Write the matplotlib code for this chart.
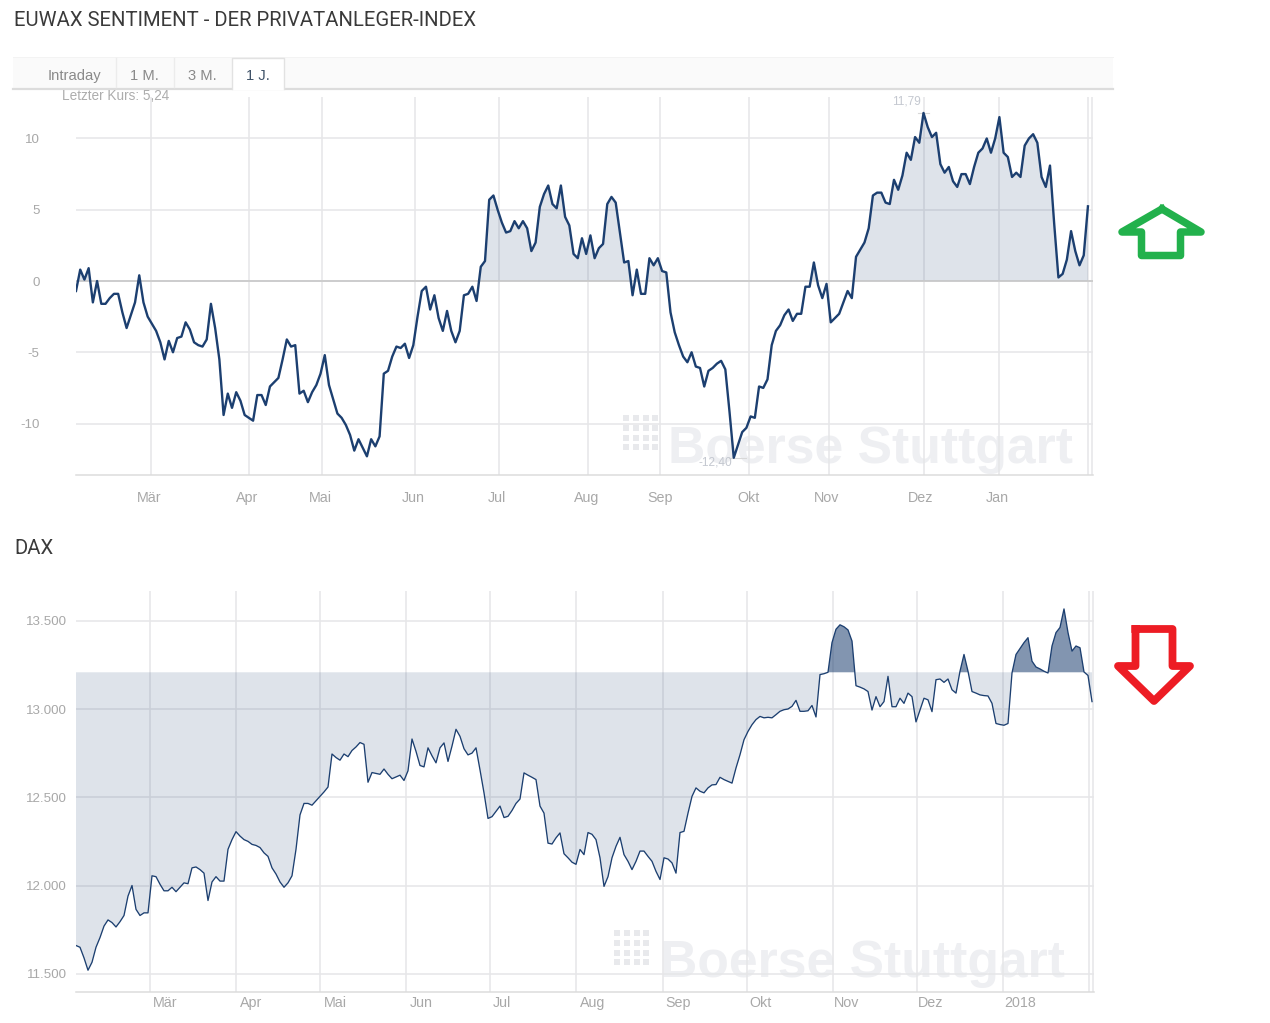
import numpy as np
import matplotlib
matplotlib.use("Agg")
import matplotlib.pyplot as plt

# ---------- data: EUWAX sentiment, one list per month ----------
eu_feb = [-0.7,0.8,0.1,0.9,-1.5,0.0,-1.6,-1.6,-1.2,-0.9,-0.9,-2.2,-3.3,-2.4,-1.5,0.4,-1.5,-2.5]
eu_mar = [-3.0,-3.5,-4.3,-5.5,-4.2,-5.0,-4.0,-3.9,-2.9,-3.4,-4.3,-4.5,-4.6,-4.1,-1.6,-3.3,-5.5,-9.4,-7.9,-8.9,-7.8,-8.4,-9.4]
eu_apr = [-9.6,-9.8,-8.0,-8.0,-8.7,-7.4,-7.1,-6.8,-5.5,-4.1,-4.6,-4.5,-7.9,-7.7,-8.5,-7.8,-7.3,-6.5]
eu_mai = [-5.2,-7.3,-8.3,-9.3,-9.6,-10.1,-10.8,-11.9,-11.1,-11.7,-12.3,-11.1,-11.6,-10.9,-6.5,-6.3,-5.3,-4.6,-4.7,-4.4,-5.4,-4.5]
eu_jun = [-2.5,-0.7,-0.4,-2.0,-1.0,-2.6,-3.5,-2.1,-3.5,-4.3,-3.5,-1.0,-0.9,-0.4,-1.4,1.0,1.4,5.7,6.0,5.0]
eu_jul = [4.1,3.4,3.5,4.2,3.7,4.2,3.7,2.1,2.7,5.2,6.1,6.7,5.4,5.1,6.7,4.5,3.9,1.9,1.6,3.0,1.9]
eu_aug = [3.2,1.6,2.3,2.6,5.4,5.9,5.5,3.4,1.3,1.4,-1.0,0.8,-0.9,-0.9,1.6,1.1,1.6]
eu_sep = [0.7,0.6,-2.2,-3.6,-4.5,-5.3,-5.7,-5.0,-6.0,-6.1,-7.4,-6.3,-6.1,-5.8,-5.6,-6.2,-9.2,-12.4,-11.5,-10.6,-10.3]
eu_okt = [-9.5,-9.6,-7.4,-7.5,-6.9,-4.5,-3.5,-3.1,-2.4,-2.0,-2.8,-2.3,-2.3,-0.4,-0.4,1.3,-0.3,-1.2,-0.2]
eu_nov = [-2.9,-2.6,-2.3,-1.5,-0.7,-1.2,1.7,2.2,2.7,3.7,6.0,6.2,6.2,5.5,5.4,7.1,6.4,7.4,9.0,8.5,10.1,9.7]
eu_dez = [11.79,10.8,10.1,10.4,8.2,7.6,8.0,7.0,6.6,7.5,7.5,6.8,8.0,9.0,9.3,10.0,9.0,10.0]
eu_jan = [11.5,9.0,8.7,7.3,7.6,7.3,9.5,10.0,10.3,9.7,7.3,6.6,8.1,4.0,0.25,0.5,1.5,3.5,2.1,1.1,1.8,5.24]
eu_values = eu_feb+eu_mar+eu_apr+eu_mai+eu_jun+eu_jul+eu_aug+eu_sep+eu_okt+eu_nov+eu_dez+eu_jan

eu_yticks = [-10,-5,0,5,10]
eu_ylabels = ['-10','-5','0','5','10']
eu_month_grid = [17.8,41,58.4,80.4,100.4,121.5,138.6,159.7,178.7,201,219,240,240.95]
eu_month_pos = [17.3,40.5,57.9,79.9,99.8,121.2,138.5,159.6,178,200.4,218.6]
eu_month_lab = ['Mär','Apr','Mai','Jun','Jul','Aug','Sep','Okt','Nov','Dez','Jan']

# ---------- data: DAX, sessions per month ----------
dax_feb = [11660,11650,11590,11520,11565,11650,11705,11770,11805,11790,11765,11795,11830,11940,12000,11865,11830,11845,11845]
dax_mar = [12055,12050,12007,11970,11970,11990,11965,11990,12015,12010,12100,12105,12090,12070,11915,12020,12050,12025,12025,12205,12260,12305]
dax_apr = [12280,12260,12250,12233,12227,12215,12185,12165,12100,12065,12020,11990,12015,12055,12205,12400,12465,12465,12455,12480]
dax_mai = [12505,12530,12558,12745,12725,12710,12745,12730,12765,12785,12810,12800,12585,12640,12635,12630,12660,12630,12605,12615,12625,12595]
dax_jun = [12650,12830,12760,12680,12672,12780,12735,12695,12780,12808,12703,12790,12885,12845,12775,12740,12750,12780,12655,12525,12380]
dax_jul = [12390,12420,12450,12385,12392,12425,12465,12490,12638,12625,12613,12600,12450,12410,12240,12235,12270,12298,12180,12157,12132,12120]
dax_aug = [12204,12175,12300,12290,12260,12157,11995,12050,12157,12222,12273,12175,12137,12090,12137,12195,12195,12165,12137,12080,12034]
dax_sep = [12157,12150,12128,12070,12300,12307,12410,12505,12553,12534,12525,12553,12570,12572,12613,12600,12590,12580,12666,12741,12826]
dax_okt = [12873,12911,12940,12958,12950,12953,12950,12968,12987,12996,13000,13015,13049,12987,12987,12990,13020,12955,13195,13200,13208,13376]
dax_nov = [13452,13477,13466,13448,13385,13132,13124,13114,13099,12994,13070,13013,13042,13185,13013,13013,13061,13032,13090,13070,12927]
dax_dez = [12994,13061,13052,12985,13166,13170,13151,13170,13109,13090,13214,13309,13214,13099,13090,13080,13076,13074,13032,12918,12912]
dax_jan = [12908,12918,13204,13309,13342,13376,13404,13271,13238,13227,13214,13204,13357,13433,13462,13567,13433,13328,13357,13347,13210,13190,13042]
dax_values = dax_feb+dax_mar+dax_apr+dax_mai+dax_jun+dax_jul+dax_aug+dax_sep+dax_okt+dax_nov+dax_dez+dax_jan

dax_prev_close = 13208
dax_yticks = [11500,12000,12500,13000,13500]
dax_ylabels = ['11.500','12.000','12.500','13.000','13.500']
dax_month_grid = [18.5,40,61,82.5,103.5,125,146.75,167.75,189.25,210.25,231.75,253.25,254.25]
dax_month_pos = [22.25,43.75,64.75,86.25,106.5,129.25,150.5,171.25,192.75,213.75,236]
dax_month_lab = ['Mär','Apr','Mai','Jun','Jul','Aug','Sep','Okt','Nov','Dez','2018']

tabs = ['Intraday','1 M.','3 M.','1 J.']

# ---------- style ----------
W, H = 1270, 1023
GRID = '#e6e6e8'
LINE = '#1c3f70'
TXT = '#a8a8a8'
FONT = ['Liberation Sans', 'DejaVu Sans']
plt.rcParams['font.family'] = FONT

fig = plt.figure(figsize=(W/100, H/100), dpi=100, facecolor='white')

def rect(l, t, r, b):
    return [l/W, 1-b/H, (r-l)/W, (b-t)/H]

# chrome layer in pixel coordinates
bg = fig.add_axes([0, 0, 1, 1], zorder=0)
bg.set_xlim(0, W); bg.set_ylim(H, 0); bg.axis('off')

bg.text(14, 20.5, 'EUWAX SENTIMENT - DER PRIVATANLEGER-INDEX', family='Roboto', fontsize=14.6,
        color='#3a3a3a', va='center', ha='left')
bg.text(14, 548.5, 'DAX', family='Roboto', fontsize=14.6, color='#3a3a3a', va='center', ha='left')

bg.fill_between([13, 1113], 57, 88, color='#fafafa', lw=0)
bg.plot([13, 1113], [57, 57], color='#f3f3f3', lw=0.7)
bg.plot([13, 1113], [89, 89], color='#dcdcdc', lw=1.6)
for sx in (116, 174):
    bg.plot([sx, sx], [58, 87], color='#ececec', lw=1)
bg.fill_between([232, 284], 58, 89.5, color='white', lw=0, zorder=3)
bg.plot([232, 232, 284, 284], [89, 58, 58, 89], color='#e2e2e2', lw=1, zorder=3)
for t, cx in zip(tabs, (74, 144.5, 202.5, 258)):
    bg.text(cx, 76, t, ha='center', va='center', fontsize=10.6,
            color='#3f5268' if t == '1 J.' else '#8a8a8a', zorder=4)
bg.text(62, 95.5, 'Letzter Kurs: 5,24', fontsize=9.85, color='#adadad', va='center', ha='left', zorder=4)

# watermarks
for dx, tx, dy, ty in ((623, 668, 415, 449), (614, 660, 930, 964)):
    gx, gy = np.meshgrid(np.arange(4)*9.8 + dx + 3, np.arange(4)*9.8 + dy + 3)
    bg.scatter(gx.ravel(), gy.ravel(), s=20, marker='s', color='#e8e9ec', lw=0)
    bg.text(tx, ty, 'Boerse Stuttgart', fontsize=37.2, weight='bold', color='#eeeff2', va='center', ha='left')

# arrows
bg.plot([1162,1122,1141.5,1141.5,1180.5,1180.5,1201,1162],
        [209,232,232,255.5,255.5,232,232,209], color='#22b14c', lw=5.4, solid_joinstyle='round')
bg.plot([1135.5,1172.5,1172.5,1190,1154,1118,1135.5,1135.5],
        [629,629,666,666,701,666,666,629], color='#ed1c24', lw=5.6, solid_joinstyle='round',
        solid_capstyle='projecting')

def base_axes(box, xlim, ylim, yticks, ylabels, grid, pos, lab, ypad, xpad):
    ax = fig.add_axes(rect(*box), zorder=1)
    ax.patch.set_alpha(0)
    ax.set_xlim(*xlim); ax.set_ylim(*ylim)
    for s in ('top', 'right', 'left'):
        ax.spines[s].set_visible(False)
    ax.spines['bottom'].set_color('#dcdcdc'); ax.spines['bottom'].set_linewidth(1.1)
    ax.set_yticks(yticks); ax.set_yticklabels(ylabels)
    ax.set_xticks(grid); ax.set_xticklabels([])
    ax.set_xticks(pos, minor=True); ax.set_xticklabels(lab, minor=True)
    ax.tick_params(axis='y', length=0, pad=ypad, labelsize=9.6, labelcolor=TXT)
    ax.tick_params(axis='x', which='major', length=0)
    ax.tick_params(axis='x', which='minor', length=0, pad=xpad, labelsize=10.3, labelcolor=TXT)
    ax.grid(True, which='major', color=GRID, lw=1.1, zorder=1)
    ax.set_axisbelow(True)
    return ax

# ---------- EUWAX panel ----------
a1 = base_axes((76, 97, 1093, 475), (0, 241.2), (-13.61, 12.91), eu_yticks, eu_ylabels,
               eu_month_grid, eu_month_pos, eu_month_lab, 26.2, 11.2)
x1 = np.arange(len(eu_values))
y1 = np.array(eu_values)
a1.fill_between(x1, y1, 0, where=y1 >= 0, interpolate=True, color=LINE, alpha=0.14, lw=0, zorder=2)
a1.axhline(0, color='#c8c8c8', lw=1.2, zorder=2)
a1.plot(x1, y1, color=LINE, lw=1.7, solid_joinstyle='round', zorder=3)
imax, imin = int(np.argmax(y1)), int(np.argmin(y1))
a1.plot([imax-1.2, imax+1.2], [y1[imax]]*2, color='#d8d8d8', lw=0.8, zorder=2)
a1.plot([imin-1.2, imin+3], [y1[imin]]*2, color='#d8d8d8', lw=0.8, zorder=2)
a1.annotate('11,79', (imax, y1[imax]), xytext=(-2, 8), textcoords='offset points',
            ha='right', va='center', fontsize=8.6, color='#c4c8d0')
a1.annotate('-12,40', (imin, y1[imin]), xytext=(-1, -3.5), textcoords='offset points',
            ha='right', va='center', fontsize=8.6, color='#c4c8d0')

# ---------- DAX panel ----------
a2 = base_axes((76, 591, 1094, 992), (0, 254.5), (11396.6, 13668.6), dax_yticks, dax_ylabels,
               dax_month_grid, dax_month_pos, dax_month_lab, 6.6, 3.2)
x2 = np.arange(len(dax_values))
y2 = np.array(dax_values)
a2.fill_between(x2, y2, dax_prev_close, where=y2 <= dax_prev_close, interpolate=True,
                color=LINE, alpha=0.14, lw=0, zorder=2)
a2.fill_between(x2, y2, dax_prev_close, where=y2 >= dax_prev_close, interpolate=True,
                color=LINE, alpha=0.55, lw=0, zorder=2)
a2.plot(x2, y2, color=LINE, lw=0.95, solid_joinstyle='round', zorder=3)

fig.savefig('out.png', dpi=100, facecolor='white')
